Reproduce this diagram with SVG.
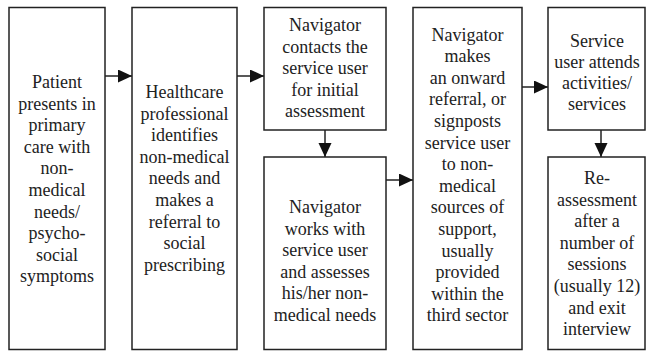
<svg xmlns="http://www.w3.org/2000/svg" width="646" height="352" viewBox="0 0 646 352">
<style>
.box{fill:#fff;stroke:#222;stroke-width:1.5}
.t{font-size:18px;fill:#222;text-anchor:middle}
.c{stroke:#222;stroke-width:1.5;fill:none;marker-end:url(#ah)}
</style>
<defs>
<marker id="ah" markerUnits="userSpaceOnUse" markerWidth="15" markerHeight="14" refX="14" refY="6.5" orient="auto">
<path d="M0,0 L14,6.5 L0,13 z" fill="#111"/>
</marker>
</defs>
<rect width="646" height="352" fill="#fff"/>
<g id="connectors">
<line class="c" x1="105" y1="76" x2="132" y2="76"/>
<line class="c" x1="237" y1="76" x2="264" y2="76"/>
<line class="c" x1="325" y1="130" x2="325" y2="157"/>
<line class="c" x1="386" y1="180" x2="413" y2="180"/>
<line class="c" x1="522" y1="87" x2="548" y2="87"/>
<line class="c" x1="601" y1="130" x2="601" y2="157"/>
</g>
<g id="n1">
<rect class="box" x="9" y="7.5" width="96" height="342"/>
<text class="t" font-family="Liberation Serif, Times New Roman, serif"><tspan x="57" y="88">Patient</tspan><tspan x="57" y="109.6">presents in</tspan><tspan x="57" y="131.2">primary</tspan><tspan x="57" y="152.8">care with</tspan><tspan x="57" y="174.4">non-</tspan><tspan x="57" y="196">medical</tspan><tspan x="57" y="217.6">needs/</tspan><tspan x="57" y="239.2">psycho-</tspan><tspan x="57" y="260.8">social</tspan><tspan x="57" y="282.4">symptoms</tspan></text>
</g>
<g id="n2">
<rect class="box" x="132" y="7.5" width="105" height="342"/>
<text class="t" font-family="Liberation Serif, Times New Roman, serif"><tspan x="184.5" y="98">Healthcare</tspan><tspan x="184.5" y="119.6">professional</tspan><tspan x="184.5" y="141.2">identifies</tspan><tspan x="184.5" y="162.8">non-medical</tspan><tspan x="184.5" y="184.4">needs and</tspan><tspan x="184.5" y="206">makes a</tspan><tspan x="184.5" y="227.6">referral to</tspan><tspan x="184.5" y="249.2">social</tspan><tspan x="184.5" y="270.8">prescribing</tspan></text>
</g>
<g id="n3">
<rect class="box" x="264" y="7.5" width="122" height="122.5"/>
<text class="t" font-family="Liberation Serif, Times New Roman, serif"><tspan x="325" y="31">Navigator</tspan><tspan x="325" y="52.6">contacts the</tspan><tspan x="325" y="74.2">service user</tspan><tspan x="325" y="95.8">for initial</tspan><tspan x="325" y="117.4">assessment</tspan></text>
</g>
<g id="n4">
<rect class="box" x="264" y="157" width="122" height="192.5"/>
<text class="t" font-family="Liberation Serif, Times New Roman, serif"><tspan x="325" y="213">Navigator</tspan><tspan x="325" y="234.6">works with</tspan><tspan x="325" y="256.2">service user</tspan><tspan x="325" y="277.8">and assesses</tspan><tspan x="325" y="299.4">his/her non-</tspan><tspan x="325" y="321">medical needs</tspan></text>
</g>
<g id="n5">
<rect class="box" x="413" y="7.5" width="109" height="342"/>
<text class="t" font-family="Liberation Serif, Times New Roman, serif"><tspan x="467.5" y="40.5">Navigator</tspan><tspan x="467.5" y="62.1">makes</tspan><tspan x="467.5" y="83.7">an onward</tspan><tspan x="467.5" y="105.3">referral, or</tspan><tspan x="467.5" y="126.9">signposts</tspan><tspan x="467.5" y="148.5">service user</tspan><tspan x="467.5" y="170.1">to non-</tspan><tspan x="467.5" y="191.7">medical</tspan><tspan x="467.5" y="213.3">sources of</tspan><tspan x="467.5" y="234.9">support,</tspan><tspan x="467.5" y="256.5">usually</tspan><tspan x="467.5" y="278.1">provided</tspan><tspan x="467.5" y="299.7">within the</tspan><tspan x="467.5" y="321.3">third sector</tspan></text>
</g>
<g id="n6">
<rect class="box" x="548" y="7.5" width="97" height="122.5"/>
<text class="t" font-family="Liberation Serif, Times New Roman, serif"><tspan x="597" y="47">Service</tspan><tspan x="597" y="68">user attends</tspan><tspan x="597" y="89">activities/</tspan><tspan x="597" y="110">services</tspan></text>
</g>
<g id="n7">
<rect class="box" x="548" y="157" width="97" height="192.5"/>
<text class="t" font-family="Liberation Serif, Times New Roman, serif"><tspan x="597" y="184">Re-</tspan><tspan x="597" y="205.6">assessment</tspan><tspan x="597" y="227.2">after a</tspan><tspan x="597" y="248.8">number of</tspan><tspan x="597" y="270.4">sessions</tspan><tspan x="597" y="292">(usually 12)</tspan><tspan x="597" y="313.6">and exit</tspan><tspan x="597" y="335.2">interview</tspan></text>
</g>
</svg>
